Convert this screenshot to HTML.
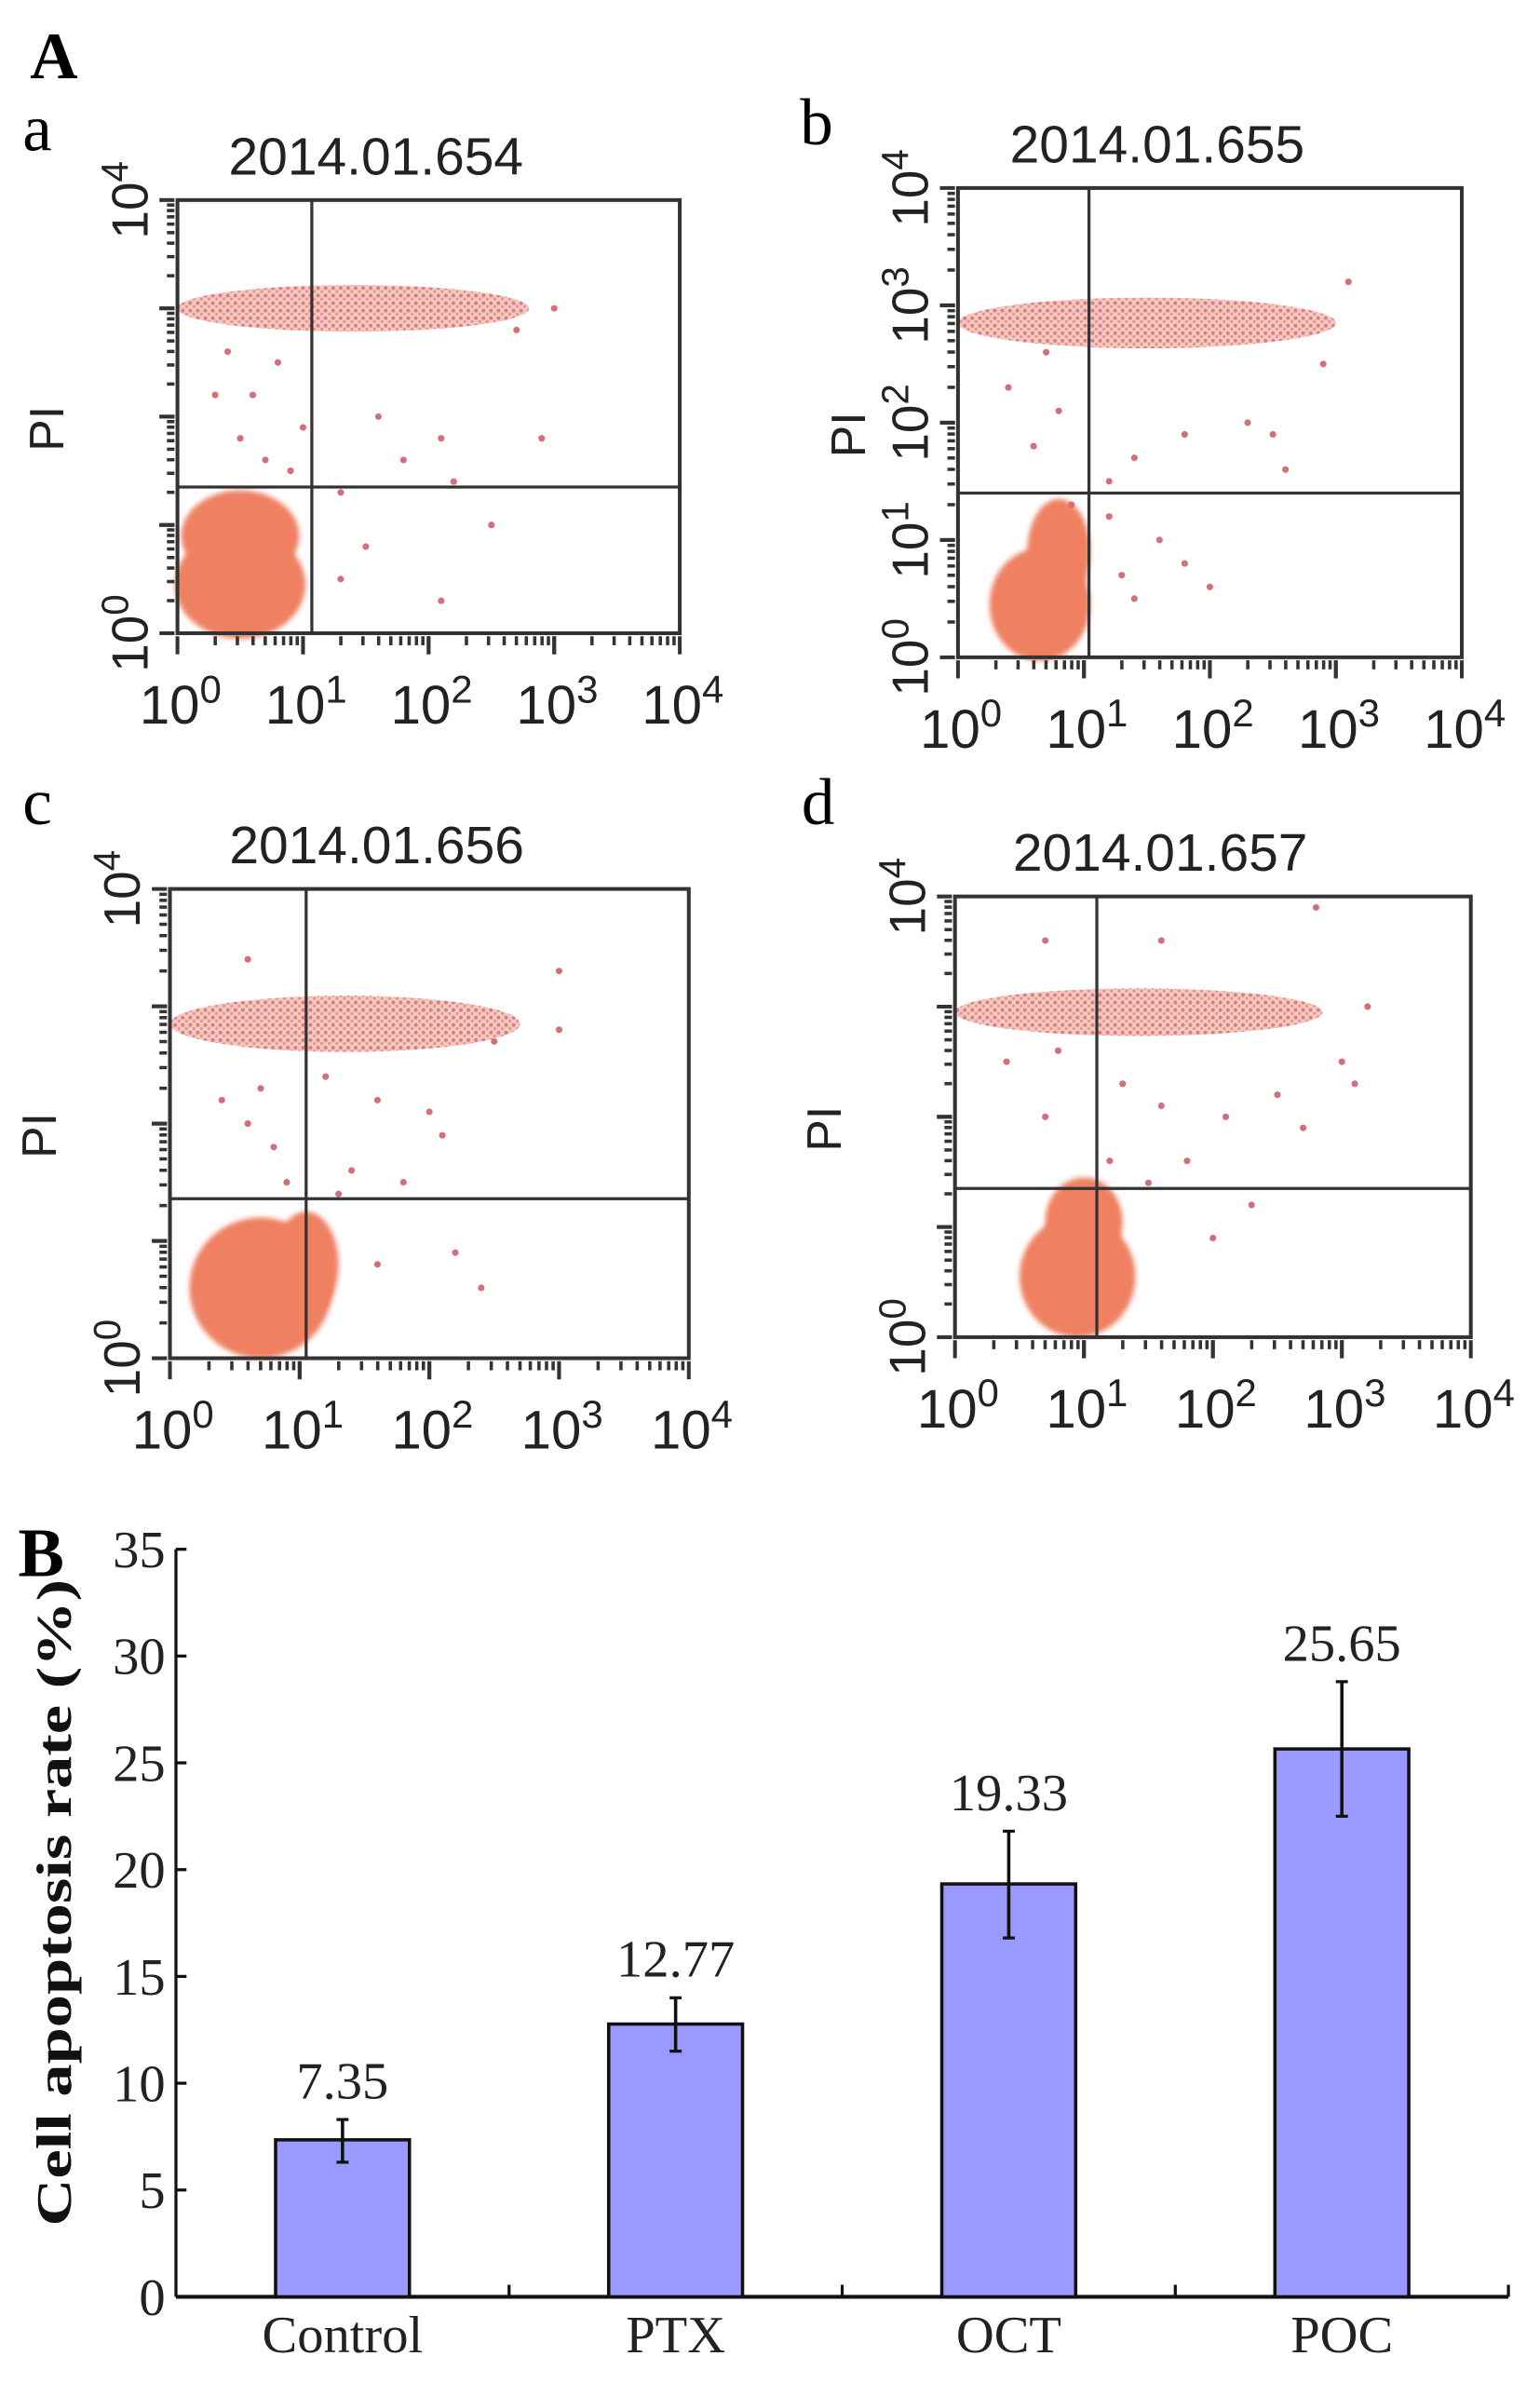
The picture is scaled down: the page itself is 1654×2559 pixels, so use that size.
<!DOCTYPE html>
<html><head><meta charset="utf-8">
<style>
html,body{margin:0;padding:0;background:#fff;}
svg{display:block;}
</style></head>
<body>
<svg id="fig" width="1654" height="2559" viewBox="0 0 1024 1584.3" preserveAspectRatio="none" xmlns="http://www.w3.org/2000/svg">
<defs>
<filter id="soft"><feGaussianBlur stdDeviation="1.6"/></filter>
<pattern id="dotpat" width="5" height="5" patternUnits="userSpaceOnUse">
<rect width="5" height="5" fill="#f3c4bc"/>
<circle cx="1.5" cy="1.5" r="1.3" fill="#d5707a"/>
<circle cx="4" cy="3.8" r="1" fill="#e28870"/>
</pattern>
</defs>
<text x="20" y="52" font-family="Liberation Serif, serif" font-weight="bold" font-size="44">A</text>
<text x="12" y="1048" font-family="Liberation Serif, serif" font-weight="bold" font-size="46">B</text>
<g id="flow"></g>
<g id="bars"></g>
</svg>
<script>
const NS="http://www.w3.org/2000/svg";
function mk(tag,attrs,parent,text){const e=document.createElementNS(NS,tag);for(const k in attrs)e.setAttribute(k,attrs[k]);if(text!==undefined)e.textContent=text;parent.appendChild(e);return e;}

/* ---------- flow cytometry data (decade units, 0..4) ---------- */
const panelLetters=["a","b","c","d"];
const panelTitles=["2014.01.654","2014.01.655","2014.01.656","2014.01.657"];
const gateX=[1.07,1.04,1.05,1.1];
const gateY=[1.35,1.4,1.36,1.35];
const yLabelsAll=[false,true,false,false];
// clusters: [cx, cy, rx, ry]
const clustersA=[[0.5,0.45,0.52,0.5],[0.5,0.9,0.47,0.42]];
const clustersB=[[0.65,0.45,0.4,0.48],[0.8,0.9,0.25,0.45]];
const clustersC=[[0.7,0.6,0.55,0.6],[1.05,0.8,0.25,0.45]];
const clustersD=[[0.95,0.55,0.45,0.55],[1.0,1.05,0.3,0.4]];
// bands: [x0, x1, y, thickness]
const bandsA=[[0.0,2.8,3.0,0.18]];
const bandsB=[[0.0,3.0,2.85,0.18]];
const bandsC=[[0.0,2.7,2.85,0.2]];
const bandsD=[[0.0,2.85,2.95,0.18]];
const dotsA=[[0.3,2.2],[0.5,1.8],[0.8,2.5],[1.6,2.0],[1.8,1.6],[2.1,1.8],[2.2,1.4],[2.9,1.8],[2.5,1.0],[1.5,0.8],[1.3,0.5],[2.1,0.3],[0.4,2.6],[1.0,1.9],[0.9,1.5],[3.0,3.0],[2.7,2.8],[0.6,2.2],[0.7,1.6],[1.3,1.3]];
const dotsB=[[0.4,2.3],[0.6,1.8],[0.8,2.1],[1.2,1.5],[1.4,1.7],[1.8,1.9],[2.3,2.0],[2.5,1.9],[2.6,1.6],[1.6,1.0],[1.8,0.8],[2.0,0.6],[1.4,0.5],[3.1,3.2],[2.9,2.5],[0.9,1.3],[0.7,2.6],[1.2,1.2],[1.3,0.7]];
const dotsC=[[0.6,3.4],[0.4,2.2],[0.6,2.0],[0.8,1.8],[1.2,2.4],[1.6,2.2],[2.0,2.1],[2.1,1.9],[1.4,1.6],[1.8,1.5],[2.2,0.9],[2.4,0.6],[1.6,0.8],[3.0,2.8],[3.0,3.3],[2.5,2.7],[0.9,1.5],[0.7,2.3],[1.3,1.4]];
const dotsD=[[0.7,3.6],[1.6,3.6],[2.8,3.9],[0.4,2.5],[0.8,2.6],[1.3,2.3],[1.6,2.1],[2.1,2.0],[2.5,2.2],[3.0,2.5],[3.1,2.3],[2.7,1.9],[1.8,1.6],[1.5,1.4],[2.0,0.9],[2.3,1.2],[3.2,3.0],[0.7,2.0],[1.2,1.6]];
const panelClusters=[clustersA,clustersB,clustersC,clustersD];
const panelBands=[bandsA,bandsB,bandsC,bandsD];
const panelDots=[dotsA,dotsB,dotsC,dotsD];
// frame boxes in figure coords (layout, not data)
const boxes=[[118,133,452,421],[637,125,972,437],[113,591,458,903],[635,596,978,889]];
const letterPos=[[15,100],[532,96],[15,548],[533,548]];

const flow=document.getElementById('flow');
boxes.forEach((b,i)=>{
  const [L,T,R,B]=b;
  const sx=d=>L+(R-L)*d/4, sy=d=>B-(B-T)*d/4;
  const g=mk('g',{},flow);
  
  
  const lt=mk('text',{x:letterPos[i][0],y:letterPos[i][1],'font-family':'Liberation Serif, serif','font-size':'44'},g,panelLetters[i]);
  
  
  const tt=mk('text',{x:(L+R)/2-35,y:T-17,'text-anchor':'middle','font-family':'Liberation Sans, sans-serif','font-size':'35',fill:'#222',textLength:'196',lengthAdjust:'spacingAndGlyphs'},g,panelTitles[i]);
  
  
  const dg=mk('g',{},g);
  
  
  panelBands[i].forEach(bd=>{
    const e=mk('ellipse',{cx:(sx(bd[0])+sx(bd[1]))/2,cy:sy(bd[2]),rx:(sx(bd[1])-sx(bd[0]))/2,ry:(sy(0)-sy(bd[3]))*1.2,fill:'url(#dotpat)',opacity:'0.9'},dg);
    
    
  });
  panelClusters[i].forEach(c=>{
    const e=mk('ellipse',{cx:sx(c[0]),cy:sy(c[1]),rx:sx(c[2])-L,ry:B-sy(c[3]),fill:'#ef8062',filter:'url(#soft)'},dg);
    
    
  });
  panelDots[i].forEach(p=>{
    const e=mk('circle',{cx:sx(p[0]),cy:sy(p[1]),r:2.2,fill:'#d26f78'},dg);
    
    
  });
  const fr=mk('rect',{x:L,y:T,width:R-L,height:B-T,fill:'none',stroke:'#333','stroke-width':'2.5'},g);
  
  
  const vg=mk('line',{x1:sx(gateX[i]),x2:sx(gateX[i]),y1:T,y2:B,stroke:'#333','stroke-width':'2'},g);
  
  
  const hg=mk('line',{x1:L,x2:R,y1:sy(gateY[i]),y2:sy(gateY[i]),stroke:'#333','stroke-width':'2'},g);
  
  
  for(let d=0;d<4;d++){for(let k=1;k<=10;k++){
    const v=d+Math.log10(k);const big=(k===1||k===10);
    mk('line',{x1:sx(v),x2:sx(v),y1:B+2,y2:B+(big?14:8),stroke:'#333','stroke-width':big?2.5:2.2},g);
    mk('line',{x1:L-2,x2:L-(big?12:7),y1:sy(v),y2:sy(v),stroke:'#333','stroke-width':big?2.5:2.2},g);
  }}
  for(let d=0;d<=4;d++){
    const xl=mk('text',{x:sx(d)+2,y:B+60,'text-anchor':'middle','font-family':'Liberation Sans, sans-serif','font-size':'36',fill:'#222'},g);
    
    
    mk('tspan',{},xl,'10');mk('tspan',{dy:'-14','font-size':'26'},xl,String(d));
    if(yLabelsAll[i]||d===0||d===4){
      const yl=mk('text',{x:0,y:0,'text-anchor':'middle','font-family':'Liberation Sans, sans-serif','font-size':'34',fill:'#222',transform:`translate(${L-20} ${sy(d)}) rotate(-90)`},g);
      
      
      mk('tspan',{},yl,'10');mk('tspan',{dy:'-13','font-size':'25'},yl,String(d));
    }
  }
  const pl=mk('text',{x:0,y:0,'text-anchor':'middle','font-family':'Liberation Sans, sans-serif','font-size':'32',fill:'#222',transform:`translate(${L-(yLabelsAll[i]?62:76)} ${(T+B)/2+8}) rotate(-90)`},g,'PI');
  
  
});

/* ---------- bar chart data ---------- */
const categories=["Control","PTX","OCT","POC"];
const rates=[7.35,12.77,19.33,25.65];
const errLow=[6.3,11.5,16.8,22.5];
const errHigh=[8.3,14.0,21.8,28.8];
const valueLabels=["7.35","12.77","19.33","25.65"];
const yTicks=[0,5,10,15,20,25,30,35];

const bars=document.getElementById('bars');
const AX0=117, AX1=1003, Y0=1527, Y1=1030, YMAX=35;
const ys=v=>Y0-(Y0-Y1)*v/YMAX;
const step=(AX1-AX0)/categories.length;
const xc=i=>AX0+step*(i+0.5);
const BW=89;
const ax=mk('line',{x1:AX0,x2:AX0,y1:Y1,y2:Y0,stroke:'#111','stroke-width':'2'},bars);


const bx=mk('line',{x1:AX0,x2:AX1,y1:Y0,y2:Y0,stroke:'#111','stroke-width':'2.5'},bars);


yTicks.forEach(t=>{
  mk('line',{x1:AX0,x2:AX0+7,y1:ys(t),y2:ys(t),stroke:'#111','stroke-width':'2'},bars);
  const tl=mk('text',{x:AX0-7,y:ys(t)+12,'text-anchor':'end','font-family':'Liberation Serif, serif','font-size':'35',fill:'#222'},bars,String(t));
  
  
});
for(let i=1;i<=categories.length;i++){mk('line',{x1:AX0+step*i,x2:AX0+step*i,y1:Y0,y2:Y0-8,stroke:'#111','stroke-width':'2'},bars);}
categories.forEach((c,i)=>{
  const r=mk('rect',{x:xc(i)-BW/2,y:ys(rates[i]),width:BW,height:Y0-ys(rates[i]),fill:'#9999ff',stroke:'#111','stroke-width':'2.2'},bars);
  
  
  const eb=mk('line',{x1:xc(i),x2:xc(i),y1:ys(errHigh[i]),y2:ys(errLow[i]),stroke:'#111','stroke-width':'2.2'},bars);
  
  
  mk('line',{x1:xc(i)-4,x2:xc(i)+4,y1:ys(errHigh[i]),y2:ys(errHigh[i]),stroke:'#111','stroke-width':'2'},bars);
  mk('line',{x1:xc(i)-4,x2:xc(i)+4,y1:ys(errLow[i]),y2:ys(errLow[i]),stroke:'#111','stroke-width':'2'},bars);
  const vl=mk('text',{x:xc(i),y:ys(errHigh[i])-14,'text-anchor':'middle','font-family':'Liberation Serif, serif','font-size':'35',fill:'#222'},bars,valueLabels[i]);
  
  
  const cl=mk('text',{x:xc(i),y:Y0+37,'text-anchor':'middle','font-family':'Liberation Serif, serif','font-size':'35',fill:'#222'},bars,c);
  
  
});
const yt=mk('text',{x:0,y:0,'text-anchor':'middle','font-family':'Liberation Serif, serif','font-weight':'bold','font-size':'33',fill:'#111',transform:'translate(47 1265) rotate(-90)',textLength:'430',lengthAdjust:'spacingAndGlyphs'},bars,'Cell apoptosis rate (%)');


</script>
</body></html>
